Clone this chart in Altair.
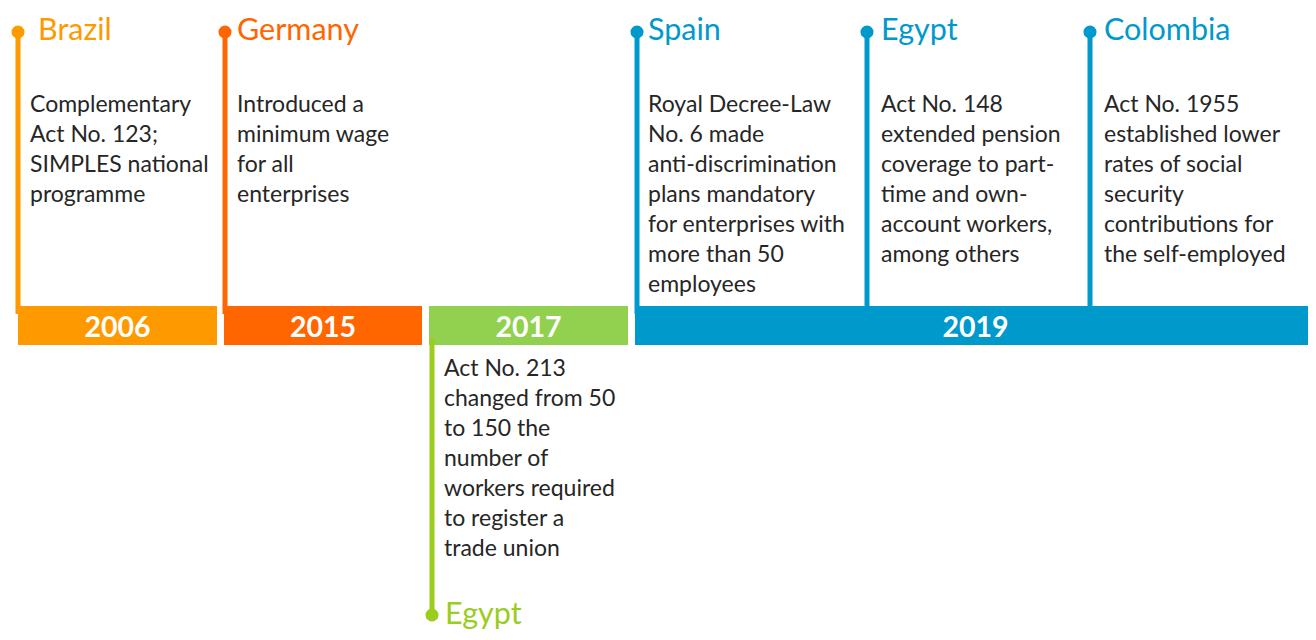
import altair as alt
import pandas as pd

# ---- data ----
years = ["2006", "2015", "2017", "2019"]
year_colors = ["#FF9900", "#FF6600", "#92D050", "#0099CC"]

countries = ["Brazil", "Germany", "Egypt", "Spain", "Egypt", "Colombia"]
event_years = ["2006", "2015", "2017", "2019", "2019", "2019"]
descriptions = [
    "Complementary\nAct No. 123;\nSIMPLES national\nprogramme",
    "Introduced a\nminimum wage\nfor all\nenterprises",
    "Act No. 213\nchanged from 50\nto 150 the\nnumber of\nworkers required\nto register a\ntrade union",
    "Royal Decree-Law\nNo. 6 made\nanti-discrimination\nplans mandatory\nfor enterprises with\nmore than 50\nemployees",
    "Act No. 148\nextended pension\ncoverage to part-\ntime and own-\naccount workers,\namong others",
    "Act No. 1955\nestablished lower\nrates of social\nsecurity\ncontributions for\nthe self-employed",
]

# ---- layout (timeline units) ----
band_start = [18, 224, 429, 635]
band_end = [217, 422, 628, 1316]
stem_pos = [18, 225, 432, 637, 867, 1090]
label_pos = [38, 237, 445, 648, 881, 1104]
text_pos = [30, 237, 444, 648, 881, 1104]
above = [True, True, False, True, True, True]

event_colors = {"2006": "#FF9900", "2015": "#FF6600", "2017": "#9ACD1E", "2019": "#0099CC"}

bands = pd.DataFrame({"year": years, "color": year_colors, "x0": band_start, "x1": band_end})
bands["xm"] = (bands["x0"] + bands["x1"]) / 2
bands["y0"] = 306
bands["y1"] = 345
bands["ym"] = 328

rows = []
for c, yr, d, sx, lx, tx, up in zip(countries, event_years, descriptions, stem_pos, label_pos, text_pos, above):
    rows.append({
        "country": c, "year": yr, "desc": d, "sx": sx, "lx": lx, "tx": tx,
        "color": event_colors[yr],
        "dot": 32 if up else 615,
        "stem_end": 314 if up else 338,
        "label_y": 40 if up else 624,
        "text_y": 112 if up else 376,
    })
events = pd.DataFrame(rows)

W, H = 1300, 624
xs = alt.Scale(domain=[8, 8 + W])
ys = alt.Scale(domain=[8, 8 + H], reverse=True)
FONT = "Lato"

base_b = alt.Chart(bands)
base_e = alt.Chart(events)

band_layer = base_b.mark_rect().encode(
    x=alt.X("x0:Q", scale=xs, axis=None), x2="x1:Q",
    y=alt.Y("y0:Q", scale=ys, axis=None), y2="y1:Q",
    color=alt.Color("color:N", scale=None),
)
year_text = base_b.mark_text(font=FONT, fontSize=28.5, fontWeight="bold", color="white",
                             baseline="middle", align="center").encode(
    x=alt.X("xm:Q", scale=xs, axis=None),
    y=alt.Y("ym:Q", scale=ys, axis=None),
    text="year:N",
)
stems = base_e.mark_rule(strokeWidth=5).encode(
    x=alt.X("sx:Q", scale=xs, axis=None),
    y=alt.Y("dot:Q", scale=ys, axis=None), y2="stem_end:Q",
    color=alt.Color("color:N", scale=None),
)
dots = base_e.mark_circle(size=170, opacity=1).encode(
    x=alt.X("sx:Q", scale=xs, axis=None),
    y=alt.Y("dot:Q", scale=ys, axis=None),
    color=alt.Color("color:N", scale=None),
)
labels = base_e.mark_text(font=FONT, fontSize=30.5, align="left", baseline="alphabetic").encode(
    x=alt.X("lx:Q", scale=xs, axis=None),
    y=alt.Y("label_y:Q", scale=ys, axis=None),
    text="country:N",
    color=alt.Color("color:N", scale=None),
)
desc = base_e.mark_text(font=FONT, fontSize=23, align="left", baseline="alphabetic",
                        lineBreak="\n", lineHeight=30, color="#262626").encode(
    x=alt.X("tx:Q", scale=xs, axis=None),
    y=alt.Y("text_y:Q", scale=ys, axis=None),
    text="desc:N",
)

chart = alt.layer(band_layer, stems, dots, year_text, labels, desc).properties(
    width=W, height=H, padding=0, autosize=alt.AutoSizeParams(type="none"),
).configure_view(stroke=None)

chart.save("out.html", embed_options={"renderer": "svg", "actions": False})
